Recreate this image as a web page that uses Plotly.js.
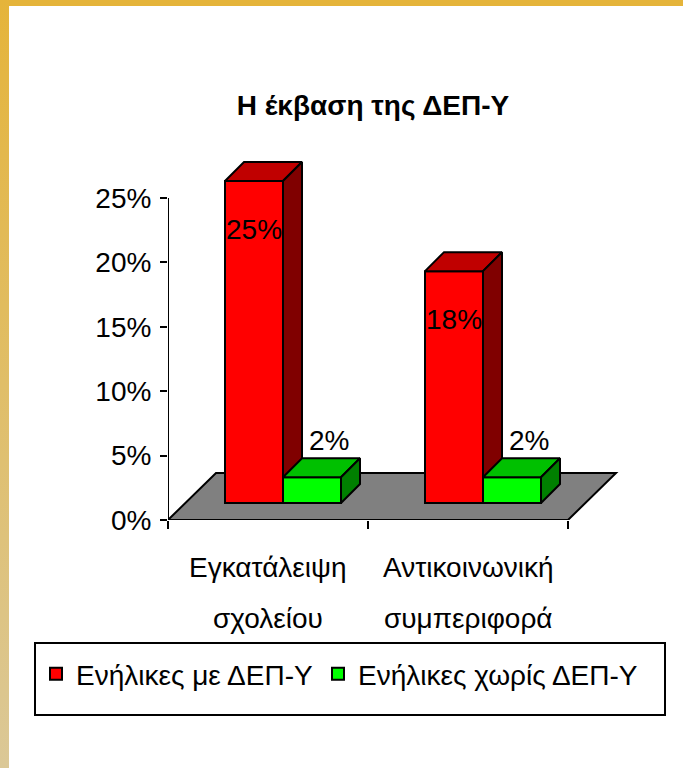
<!DOCTYPE html>
<html><head><meta charset="utf-8">
<script src="https://cdn.plot.ly/plotly-3.0.1.min.js"></script>
<style>
html,body{margin:0;padding:0;background:#fff;}
#wrap{position:relative;width:683px;height:768px;overflow:hidden;}
#chart{position:absolute;left:0;top:0;width:683px;height:768px;}
#topband{position:absolute;left:0;top:0;width:683px;height:6px;background:#E5B43A;pointer-events:none;}
#leftband{position:absolute;left:0;top:0;width:9px;height:768px;background:linear-gradient(#E5B43A,#DBC897);pointer-events:none;}
</style></head>
<body><div id="wrap"><div id="chart"></div><div id="topband"></div><div id="leftband"></div></div>
<script>
// ---- data ----
const categories = ['Εγκατάλειψη<br>σχολείου', 'Αντικοινωνική<br>συμπεριφορά'];
const seriesNames = ['Ενήλικες με ΔΕΠ-Υ', 'Ενήλικες χωρίς ΔΕΠ-Υ'];
const withADHD = [25, 18];
const withoutADHD = [2, 2];
const yTickValues = [0, 5, 10, 15, 20, 25];

// ---- geometry (style) ----
const FONT = 'Liberation Sans, Arial, sans-serif';
const FS = 28;
const W = 683, H = 768;
const plotL = 168, plotR = 620, plotT = 150, plotB = 520;
const pxPerCat = 200, pxPerPct = 12.88;
const xRange = [-0.5, -0.5 + (plotR - plotL) / pxPerCat];
const yRange = [0, (plotB - plotT) / pxPerPct];
const frontDX = 15 / pxPerCat, frontDY = 17 / pxPerPct;   // bars sit inside the floor
const barDX = 19 / pxPerCat, barDY = 19 / pxPerPct;       // bar depth
const floorDX = 48 / pxPerCat, floorDY = 47 / pxPerPct;   // floor depth
const barW = 0.29;
const catLine1 = 47, catLineGap = 51;                     // category label placement (px below axis)
const legBox = {l: 35, r: 665, t: 643, b: 715};
const px2paperX = p => (p - plotL) / (plotR - plotL);
const px2paperY = p => (plotB - p) / (plotB - plotT);

const series = [
  {name: seriesNames[0], vals: withADHD, front: '#FF0000', top: '#C00000', side: '#800000',
   offset: frontDX - barW, xa: 'x', ya: 'y', lblX: 0, lblY: -48},
  {name: seriesNames[1], vals: withoutADHD, front: '#00FF00', top: '#00C000', side: '#008000',
   offset: frontDX, xa: 'x2', ya: 'y2', lblX: 17, lblY: 37}
];

const idx = categories.map((c, i) => i);
const traces = [];
const annotations = [];
series.forEach(s => {
  traces.push({
    type: 'bar', name: s.name, x: idx, y: s.vals, base: frontDY,
    width: barW, offset: s.offset, xaxis: s.xa, yaxis: s.ya,
    marker: {color: s.front, line: {color: '#000', width: 2}},
    hoverinfo: 'skip'
  });
  const tx = [], ty = [], sx = [], sy = [];
  idx.forEach(i => {
    const L = i + s.offset, R = L + barW, B = frontDY, T = frontDY + s.vals[i];
    tx.push(L, R, R + barDX, L + barDX, L, null);
    ty.push(T, T, T + barDY, T + barDY, T, null);
    sx.push(R, R + barDX, R + barDX, R, R, null);
    sy.push(B, B + barDY, T + barDY, T, B, null);
    annotations.push({
      xref: s.xa, yref: s.ya, x: L + barW / 2, y: T, text: s.vals[i] + '%',
      showarrow: false, xshift: s.lblX, yshift: s.lblY,
      font: {family: FONT, size: FS, color: '#000'}
    });
  });
  [[tx, ty, s.top], [sx, sy, s.side]].forEach(([px, py, col]) => {
    traces.push({
      type: 'scatter', mode: 'lines', x: px, y: py, fill: 'toself', fillcolor: col,
      line: {color: '#000', width: 2}, xaxis: s.xa, yaxis: s.ya,
      showlegend: false, hoverinfo: 'skip'
    });
  });
});

// category labels (one text line per annotation, wider line spacing like the original)
categories.forEach((c, i) => {
  c.split('<br>').forEach((line, k) => {
    annotations.push({
      xref: 'x', yref: 'paper', x: i, y: 0, yanchor: 'middle', xanchor: 'center',
      yshift: -(catLine1 + k * catLineGap), text: line, showarrow: false,
      font: {family: FONT, size: FS, color: '#000'}
    });
  });
});

const floorPath = `M ${xRange[0]},0 L ${xRange[0] + 2},0 L ${xRange[0] + 2 + floorDX},${floorDY} L ${xRange[0] + floorDX},${floorDY} Z`;
const shapes = [
  {type: 'path', xref: 'x', yref: 'y', path: floorPath, fillcolor: '#808080',
   line: {color: '#000', width: 2}, layer: 'below'},
  {type: 'line', xref: 'x', yref: 'y', x0: xRange[0], x1: xRange[0], y0: 0, y1: yTickValues[yTickValues.length - 1],
   line: {color: '#000', width: 2}, layer: 'below'},
  {type: 'line', xref: 'x', yref: 'y', x0: xRange[0], x1: xRange[0] + 2, y0: 0, y1: 0,
   line: {color: '#000', width: 2}, layer: 'below'},
  // legend frame
  {type: 'rect', xref: 'paper', yref: 'paper',
   x0: px2paperX(legBox.l), x1: px2paperX(legBox.r), y0: px2paperY(legBox.b), y1: px2paperY(legBox.t),
   fillcolor: '#fff', line: {color: '#000', width: 2}, layer: 'above'}
];

const layout = {
  width: W, height: H,
  margin: {l: plotL, r: W - plotR, t: plotT, b: H - plotB, pad: 0},
  paper_bgcolor: '#fff', plot_bgcolor: 'rgba(0,0,0,0)',
  font: {family: FONT, size: FS, color: '#000'},
  title: {text: 'Η έκβαση της ΔΕΠ-Υ', font: {family: FONT, size: 28, weight: 'bold', color: '#000'},
          xref: 'container', yref: 'container', x: 373 / W, y: 1 - 105 / H,
          xanchor: 'center', yanchor: 'middle'},
  xaxis: {type: 'linear', range: xRange, fixedrange: true, showgrid: false, zeroline: false, showline: false,
          tickmode: 'array', tickvals: idx, showticklabels: false, ticks: '',
          minor: {tickmode: 'array', tickvals: [-0.5, 0.5, 1.5], ticks: 'outside', ticklen: 8, tickwidth: 2, tickcolor: '#000', showgrid: false},
          automargin: false},
  yaxis: {type: 'linear', range: yRange, fixedrange: true, showgrid: false, zeroline: false, showline: false,
          tickmode: 'array', tickvals: yTickValues, ticktext: yTickValues.map(v => v + '%'),
          ticks: 'outside', ticklen: 7, tickwidth: 2, tickcolor: '#000',
          ticklabelstandoff: 3, tickfont: {family: FONT, size: FS}, automargin: false},
  xaxis2: {overlaying: 'x', range: xRange, visible: false, fixedrange: true},
  yaxis2: {overlaying: 'y', range: yRange, visible: false, fixedrange: true},
  showlegend: true,
  legend: {orientation: 'h', x: px2paperX(legBox.l + 1), xanchor: 'left',
           y: px2paperY(legBox.t + 6), yanchor: 'top',
           bgcolor: 'rgba(0,0,0,0)', borderwidth: 0,
           font: {family: FONT, size: FS, color: '#000'}, traceorder: 'normal'},
  shapes: shapes,
  annotations: annotations
};

Plotly.newPlot('chart', traces, layout, {staticPlot: true, displayModeBar: false});
</script>
</body></html>
